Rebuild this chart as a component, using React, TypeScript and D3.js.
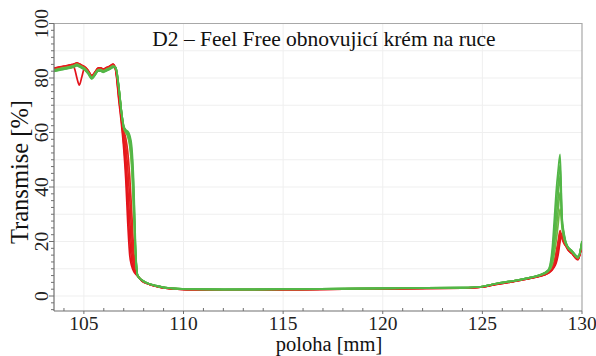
import { useEffect, useRef } from "react";
import * as d3 from "d3";

// positions along the cell [mm]
const positions = [
  103.5, 103.8, 104.1, 104.4, 104.55, 104.65, 104.77, 104.9, 105.05, 105.2,
  105.4, 105.55, 105.72, 105.85, 105.97, 106.15, 106.3, 106.47,
  106.6, 106.75, 106.9, 107.0, 107.1, 107.2, 107.3, 107.4, 107.5, 107.6, 107.7,
  107.9, 108.2, 108.6, 109.0, 109.5, 110.5, 112, 115, 118, 121, 124, 125,
  125.7, 126.5, 127.2, 127.8,
  128.3, 128.5, 128.6, 128.7, 128.8, 128.9, 129.0, 129.1, 129.25, 129.5, 129.8, 130,
];

// transmission profiles [%], first (red) to last (green)
const profile1 = [
  83.6, 84.1, 84.5, 84.9, 83.0, 80.0, 77.4, 80.5, 84.0, 82.9, 80.9, 82.1, 83.7, 83.7, 83.3, 83.9, 84.4, 85.1,
  82.5, 72, 62, 54, 43, 27, 15, 11, 9, 8, 7.3,
  5.6, 4.5, 3.6, 3.0, 2.6, 2.3, 2.2, 2.3, 2.5, 2.7, 2.9, 3.3, 4.3, 5.2, 6.2, 7.1,
  8.3, 9.5, 10.5, 12, 15, 20, 23, 21, 17.5, 15.5, 13.3, 19,
];
const profile2 = [
  83.5, 84.0, 84.4, 84.9, 85.3, 85.6, 85.2, 84.7, 84.0, 82.8, 80.8, 82.0, 83.6, 83.6, 83.2, 83.8, 84.3, 85.0,
  82.8, 73, 63.5, 56, 47, 34, 21, 13, 9.8, 8.3, 7.4,
  5.6, 4.5, 3.6, 3.0, 2.6, 2.3, 2.2, 2.3, 2.5, 2.7, 2.9, 3.3, 4.3, 5.2, 6.2, 7.1,
  8.4, 9.8, 11, 13, 16.5, 21, 22.5, 20.5, 17.6, 15.6, 13.4, 19.1,
];
const profile3 = [
  83.4, 83.9, 84.3, 84.8, 85.2, 85.5, 85.1, 84.6, 83.9, 82.7, 80.7, 81.9, 83.5, 83.5, 83.1, 83.7, 84.2, 84.9,
  83.0, 74, 64.5, 58, 51, 40, 28, 17, 11, 8.6, 7.4,
  5.7, 4.5, 3.6, 3.0, 2.6, 2.3, 2.2, 2.3, 2.5, 2.7, 2.9, 3.3, 4.4, 5.3, 6.3, 7.2,
  8.5, 10, 11.5, 14, 18, 22, 22, 20, 17.7, 15.7, 13.5, 19.2,
];
const profile4 = [
  83.3, 83.8, 84.2, 84.7, 85.1, 85.4, 85.0, 84.5, 83.8, 82.6, 80.6, 81.8, 83.4, 83.4, 83.0, 83.6, 84.1, 84.8,
  83.2, 75, 65.5, 60, 55, 47, 36, 23, 13, 9, 7.5,
  5.7, 4.6, 3.7, 3.1, 2.7, 2.4, 2.3, 2.4, 2.6, 2.8, 3.0, 3.4, 4.4, 5.3, 6.3, 7.2,
  8.6, 10.3, 12, 15, 19, 23, 21.5, 19.5, 17.8, 15.8, 13.6, 19.3,
];
const profile5 = [
  83.2, 83.7, 84.1, 84.6, 85.0, 85.3, 84.9, 84.4, 83.7, 82.5, 80.5, 81.7, 83.3, 83.3, 82.9, 83.5, 84.0, 84.7,
  83.4, 76, 66, 61, 58, 53, 44, 31, 17, 10, 7.5,
  5.8, 4.6, 3.7, 3.1, 2.7, 2.4, 2.3, 2.4, 2.6, 2.8, 3.0, 3.4, 4.5, 5.4, 6.4, 7.3,
  8.8, 10.6, 12.5, 16, 20, 24, 21, 19.2, 17.9, 15.9, 13.7, 19.4,
];
const profile6 = [
  83.0, 83.5, 83.9, 84.4, 84.8, 85.1, 84.7, 84.2, 83.5, 82.3, 80.3, 81.5, 83.1, 83.1, 82.7, 83.3, 83.8, 84.5,
  83.6, 76.5, 66.5, 61.5, 60, 58.5, 55, 47, 30, 14, 7.5,
  5.8, 4.6, 3.7, 3.1, 2.7, 2.4, 2.3, 2.4, 2.6, 2.8, 3.0, 3.5, 4.5, 5.4, 6.4, 7.4,
  9.0, 11.5, 15, 20, 26, 32, 25, 21, 18.2, 16.2, 14.0, 19.7,
];
const profile7 = [
  82.8, 83.3, 83.7, 84.2, 84.6, 84.9, 84.5, 84.0, 83.3, 82.1, 80.1, 81.3, 82.9, 82.9, 82.5, 83.1, 83.6, 84.3,
  83.7, 76.7, 66.7, 61.7, 60.3, 59, 56, 49, 33, 15, 7.5,
  5.9, 4.7, 3.8, 3.2, 2.8, 2.5, 2.4, 2.5, 2.7, 2.9, 3.1, 3.5, 4.6, 5.5, 6.5, 7.5,
  9.1, 12.5, 18, 24, 31, 38, 26, 21.5, 18.3, 16.3, 14.1, 19.8,
];
const profile8 = [
  82.7, 83.2, 83.6, 84.1, 84.5, 84.8, 84.4, 83.9, 83.2, 82.0, 80.0, 81.2, 82.8, 82.8, 82.4, 83.0, 83.5, 84.2,
  83.8, 76.8, 66.8, 62, 60.5, 59.5, 57, 51, 36, 15.5, 7.5,
  5.9, 4.7, 3.8, 3.2, 2.8, 2.5, 2.4, 2.5, 2.7, 2.9, 3.1, 3.5, 4.6, 5.5, 6.5, 7.5,
  9.2, 13.5, 20, 28, 36, 44, 27, 22, 18.4, 16.4, 14.3, 20,
];
const profile9 = [
  82.5, 83.0, 83.4, 83.9, 84.3, 84.6, 84.2, 83.7, 83.0, 81.8, 79.8, 81.0, 82.6, 82.6, 82.2, 82.8, 83.3, 84.0,
  83.9, 77, 67, 62.2, 60.8, 60, 58, 53, 39, 16, 7.5,
  5.9, 4.7, 3.8, 3.2, 2.8, 2.5, 2.4, 2.5, 2.7, 2.9, 3.1, 3.5, 4.6, 5.5, 6.5, 7.5,
  9.4, 15, 23, 33, 41, 48, 28, 22.5, 18.5, 16.5, 14.4, 20.1,
];
const profile10 = [
  82.4, 82.9, 83.3, 83.8, 84.2, 84.5, 84.1, 83.6, 82.9, 81.7, 79.7, 80.9, 82.5, 82.5, 82.1, 82.7, 83.2, 83.9,
  84.0, 77, 67, 62.5, 61, 60.5, 59, 55, 42, 17, 7.5,
  5.9, 4.7, 3.8, 3.2, 2.8, 2.5, 2.4, 2.5, 2.7, 2.9, 3.1, 3.5, 4.6, 5.5, 6.5, 7.5,
  9.5, 17, 27, 38, 46, 52, 29, 23, 18.6, 16.6, 14.5, 20.2,
];

const profiles = [
  profile1, profile2, profile3, profile4, profile5,
  profile6, profile7, profile8, profile9, profile10,
];
const profileColors = [
  "#e3121b", "#e5161c", "#e61a1d", "#e71f1e", "#e4261f",
  "#6fba42", "#64b844", "#5cb746", "#57b747", "#52b648",
];

const xTicks = [105, 110, 115, 120, 125, 130];
const yTicks = [0, 20, 40, 60, 80, 100];

const title = "D2 – Feel Free obnovujicí krém na ruce";
const xLabel = "poloha [mm]";
const yLabel = "Transmise [%]";

const FONT = "'Liberation Serif', 'Times New Roman', serif";

export default function App() {
  const ref = useRef<SVGSVGElement>(null);

  useEffect(() => {
    if (!ref.current) return;
    const svg = d3.select(ref.current);
    svg.selectAll("*").remove();

    const left = 54;
    const right = 582;
    const top = 23.5;
    const bottom = 311;

    const x = d3.scaleLinear().domain([103.5, 130]).range([left, right]);
    const y = d3.scaleLinear().domain([-5.5, 100]).range([bottom, top]);

    // faint grid
    const grid = svg.append("g").attr("stroke", "#efefef").attr("stroke-width", 1);
    grid
      .selectAll("line.v")
      .data([105, 110, 115, 120, 125])
      .join("line")
      .attr("x1", (d) => x(d))
      .attr("x2", (d) => x(d))
      .attr("y1", top)
      .attr("y2", bottom);
    grid
      .selectAll("line.h")
      .data(d3.range(0, 100, 10))
      .join("line")
      .attr("x1", left)
      .attr("x2", right)
      .attr("y1", (d) => y(d))
      .attr("y2", (d) => y(d));

    // frame (top + right)
    svg
      .append("path")
      .attr("d", `M${left},${top}H${right}V${bottom}`)
      .attr("fill", "none")
      .attr("stroke", "#a8a8a8")
      .attr("stroke-width", 1.2);

    // profiles
    svg
      .append("clipPath")
      .attr("id", "plot-clip")
      .append("rect")
      .attr("x", left)
      .attr("y", top)
      .attr("width", right - left)
      .attr("height", bottom - top);

    const line = d3
      .line<number>()
      .x((_, i) => x(positions[i]))
      .y((d) => y(d))
      .curve(d3.curveMonotoneX);

    svg
      .append("g")
      .attr("clip-path", "url(#plot-clip)")
      .selectAll("path")
      .data(profiles)
      .join("path")
      .attr("d", (d) => line(d))
      .attr("fill", "none")
      .attr("stroke", (_, i) => profileColors[i])
      .attr("stroke-width", 1.7)
      .attr("stroke-linejoin", "round");

    // x axis
    const xAxis = svg.append("g").attr("stroke", "#707070");
    xAxis
      .append("line")
      .attr("x1", left)
      .attr("x2", right)
      .attr("y1", bottom)
      .attr("y2", bottom)
      .attr("stroke-width", 1.2);
    xAxis
      .selectAll("line.minor")
      .data(d3.range(104, 131, 1))
      .join("line")
      .attr("x1", (d) => x(d))
      .attr("x2", (d) => x(d))
      .attr("y1", bottom)
      .attr("y2", (d) => (d % 5 === 0 ? bottom + 3 : bottom - 3));

    svg
      .append("g")
      .selectAll("text")
      .data(xTicks)
      .join("text")
      .attr("x", (d) => x(d))
      .attr("y", 330)
      .attr("text-anchor", "middle")
      .attr("font-family", FONT)
      .attr("font-size", 19.5)
      .attr("fill", "#222")
      .text((d) => d);

    // y axis
    const yAxis = svg.append("g").attr("stroke", "#707070");
    yAxis
      .append("line")
      .attr("x1", left)
      .attr("x2", left)
      .attr("y1", top)
      .attr("y2", bottom)
      .attr("stroke-width", 1.2);
    yAxis
      .selectAll("line.minor")
      .data(d3.range(-5, 100.1, 2.5))
      .join("line")
      .attr("x1", left)
      .attr("x2", (d) => (d % 20 === 0 ? left - 5 : left - 3))
      .attr("y1", (d) => y(d))
      .attr("y2", (d) => y(d));

    svg
      .append("g")
      .selectAll("text")
      .data(yTicks)
      .join("text")
      .attr("transform", (d) => `translate(48,${y(d)}) rotate(-90)`)
      .attr("text-anchor", "middle")
      .attr("font-family", FONT)
      .attr("font-size", 19.5)
      .attr("fill", "#222")
      .text((d) => d);

    // labels
    svg
      .append("text")
      .attr("x", 324)
      .attr("y", 46)
      .attr("text-anchor", "middle")
      .attr("font-family", FONT)
      .attr("font-size", 21.5)
      .attr("fill", "#111")
      .text(title);

    svg
      .append("text")
      .attr("x", 329)
      .attr("y", 351)
      .attr("text-anchor", "middle")
      .attr("font-family", FONT)
      .attr("font-size", 20.5)
      .attr("fill", "#111")
      .text(xLabel);

    svg
      .append("text")
      .attr("transform", "translate(28,172) rotate(-90)")
      .attr("text-anchor", "middle")
      .attr("font-family", FONT)
      .attr("font-size", 24.5)
      .attr("fill", "#111")
      .text(yLabel);
  }, []);

  return (
    <svg
      ref={ref}
      width={596}
      height={356}
      style={{ position: "absolute", left: 0, top: 0, background: "#fff" }}
    />
  );
}
